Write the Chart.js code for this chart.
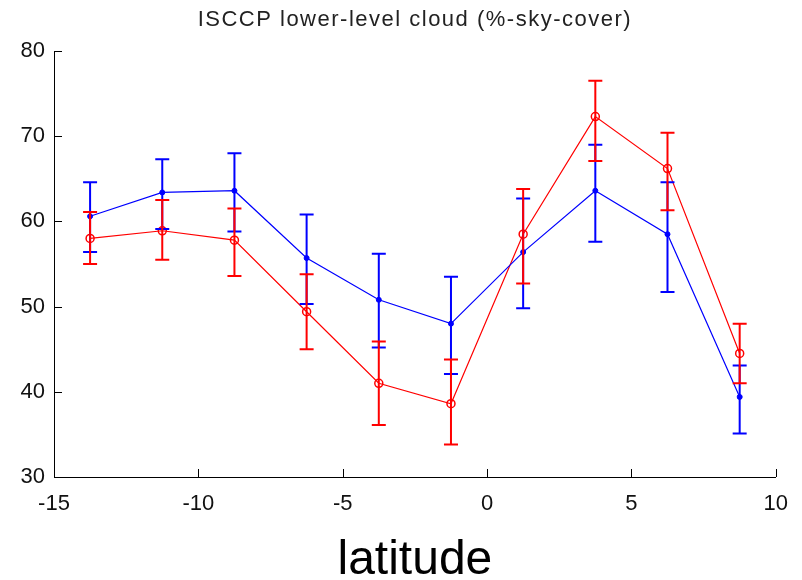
<!DOCTYPE html>
<html>
<head>
<meta charset="utf-8">
<script src="https://cdn.jsdelivr.net/npm/chart.js@4/dist/chart.umd.min.js"></script>
<style>
  body { margin: 0; background: #fff; }
  canvas { display: block; }
</style>
</head>
<body>
<canvas id="cloud" width="802" height="580"></canvas>
<script>
// latitude bins
const lats = [-13.75, -11.25, -8.75, -6.25, -3.75, -1.25, 1.25, 3.75, 6.25, 8.75];

// blue series + error bounds
const blue = [60.6, 63.4, 63.6, 55.7, 50.8, 48.0, 56.4, 63.6, 58.5, 39.4];
const blueLow = [56.4, 59.1, 58.8, 50.3, 45.2, 42.1, 49.8, 57.6, 51.7, 35.1];
const blueHigh = [64.6, 67.3, 68.0, 60.8, 56.2, 53.5, 62.7, 69.0, 64.6, 43.1];

// red series + error bounds
const red = [58.0, 58.9, 57.8, 49.4, 41.0, 38.6, 58.5, 72.3, 66.2, 44.5];
const redLow = [55.0, 55.5, 53.6, 45.0, 36.1, 33.8, 52.7, 67.1, 61.3, 41.0];
const redHigh = [61.1, 62.5, 61.5, 53.8, 45.9, 43.8, 63.8, 76.5, 70.4, 48.0];

const titleText = "ISCCP lower-level cloud (%-sky-cover)";

const toPoints = (ys) => lats.map((x, i) => ({ x: x, y: ys[i] }));

const fontFam = "'Liberation Sans', Arial, sans-serif";

// error bars, inward ticks and a title centred over the axes
const matlabLook = {
  id: "matlabLook",
  afterDatasetsDraw(chart) {
    const ctx = chart.ctx;
    const xs = chart.scales.x, ys = chart.scales.y;
    chart.data.datasets.forEach((ds) => {
      ctx.save();
      ctx.strokeStyle = ds.borderColor;
      ctx.lineWidth = 2;
      ds.low.forEach((lo, i) => {
        const px = xs.getPixelForValue(lats[i]);
        const y1 = ys.getPixelForValue(lo);
        const y2 = ys.getPixelForValue(ds.high[i]);
        ctx.beginPath();
        ctx.moveTo(px, y1); ctx.lineTo(px, y2);
        ctx.moveTo(px - 7, y1); ctx.lineTo(px + 7, y1);
        ctx.moveTo(px - 7, y2); ctx.lineTo(px + 7, y2);
        ctx.stroke();
      });
      ctx.restore();
    });
  },
  afterDraw(chart) {
    const ctx = chart.ctx;
    const xs = chart.scales.x, ys = chart.scales.y;
    const area = chart.chartArea;
    ctx.save();
    ctx.strokeStyle = "#000";
    ctx.lineWidth = 1;
    ctx.beginPath();
    xs.ticks.forEach((t) => {
      const px = Math.round(xs.getPixelForValue(t.value)) + 0.5;
      ctx.moveTo(px, area.bottom);
      ctx.lineTo(px, area.bottom - 8);
    });
    ys.ticks.forEach((t) => {
      const py = Math.round(ys.getPixelForValue(t.value)) + 0.5;
      ctx.moveTo(area.left, py);
      ctx.lineTo(area.left + 8, py);
    });
    ctx.stroke();

    // title
    ctx.fillStyle = "#222";
    ctx.font = "22px " + fontFam;
    ctx.letterSpacing = "1.5px";
    ctx.textAlign = "center";
    ctx.textBaseline = "middle";
    ctx.fillText(titleText, (area.left + area.right) / 2, 20);
    ctx.restore();
  }
};

const tickFont = { family: fontFam, size: 22 };

new Chart(document.getElementById("cloud"), {
  type: "line",
  data: {
    datasets: [
      {
        label: "blue",
        data: toPoints(blue),
        low: blueLow,
        high: blueHigh,
        borderColor: "#0000ff",
        backgroundColor: "#0000ff",
        borderWidth: 1.2,
        pointStyle: "circle",
        pointRadius: 2.5,
        pointBorderWidth: 1,
        tension: 0,
      },
      {
        label: "red",
        data: toPoints(red),
        low: redLow,
        high: redHigh,
        borderColor: "#ff0000",
        backgroundColor: "rgba(0,0,0,0)",
        borderWidth: 1.2,
        pointStyle: "circle",
        pointRadius: 4,
        pointBorderWidth: 1.5,
        tension: 0,
      },
    ],
  },
  options: {
    responsive: false,
    animation: false,
    layout: { padding: { left: 0, right: 25, top: 51, bottom: 0 } },
    plugins: {
      legend: { display: false },
      tooltip: { enabled: false },
      title: { display: false },
    },
    scales: {
      x: {
        type: "linear",
        min: -15,
        max: 10,
        ticks: { stepSize: 5, color: "#111", font: tickFont, padding: 14 },
        grid: { display: false, drawTicks: false },
        border: { display: true, color: "#000", width: 1 },
        title: {
          display: true,
          text: "latitude",
          color: "#000",
          font: { family: fontFam, size: 48, lineHeight: 0.8 },
          padding: 0,
        },
        afterFit(scale) { scale.height = 103; },
      },
      y: {
        min: 30,
        max: 80,
        ticks: { stepSize: 10, color: "#111", font: tickFont, padding: 9 },
        grid: { display: false, drawTicks: false },
        border: { display: true, color: "#000", width: 1 },
        afterFit(scale) { scale.width = 54; },
      },
    },
  },
  plugins: [matlabLook],
});
</script>
</body>
</html>
